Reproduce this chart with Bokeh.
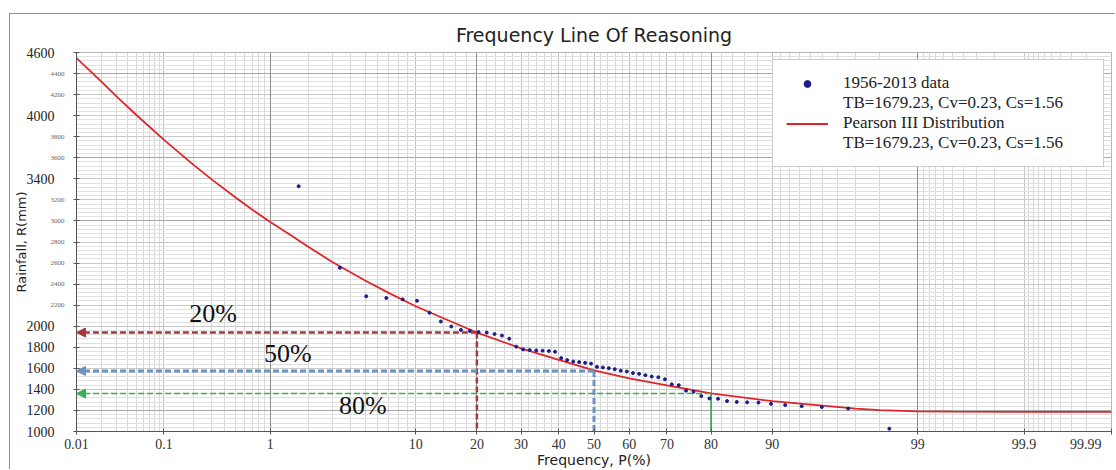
from statistics import NormalDist
from bokeh.plotting import figure
from bokeh.models import (Range1d, FixedTicker, Grid, Label, Arrow, NormalHead,
                          Legend, LegendItem, LinearAxis)
from bokeh.embed import file_html
from bokeh.resources import INLINE

# ---------------- data ----------------
# empirical frequency (%) of the 58 observed years, 1956-2013
obs_p = [1.69, 3.39, 5.08, 6.78, 8.47, 10.17, 11.86, 13.56, 15.25, 16.95,
         18.64, 20.34, 22.03, 23.73, 25.42, 27.12, 28.81, 30.51, 32.20, 33.90,
         35.59, 37.29, 38.98, 40.68, 42.37, 44.07, 45.76, 47.46, 49.15, 50.85,
         52.54, 54.24, 55.93, 57.63, 59.32, 61.02, 62.71, 64.41, 66.10, 67.80,
         69.49, 71.19, 72.88, 74.58, 76.27, 77.97, 79.66, 81.36, 83.05, 84.75,
         86.44, 88.14, 89.83, 91.53, 93.22, 94.92, 96.61, 98.31]
obs_rain = [3330, 2555, 2284, 2268, 2255, 2242, 2128, 2045, 1997, 1965,
            1955, 1945, 1940, 1926, 1911, 1882, 1806, 1780, 1773, 1770,
            1767, 1764, 1758, 1697, 1678, 1665, 1659, 1652, 1645, 1614,
            1608, 1601, 1592, 1578, 1570, 1555, 1548, 1535, 1522, 1515,
            1496, 1448, 1440, 1388, 1377, 1337, 1314, 1311, 1289, 1281,
            1277, 1275, 1263, 1251, 1241, 1232, 1218, 1027]

# Pearson III fitted curve
curve_p = [0.01, 0.02, 0.03, 0.05, 0.1, 0.2, 0.3, 0.5, 0.7, 1, 1.5, 2, 3, 5,
           7, 10, 15, 20, 30, 40, 50, 60, 70, 80, 90, 95, 97, 98, 99, 99.5,
           99.9, 99.99]
curve_rain = [4547, 4323, 4184, 4009, 3770, 3533, 3395, 3222, 3108, 2990,
              2857, 2755, 2610, 2435, 2317, 2190, 2050, 1940, 1790, 1680,
              1580, 1505, 1438, 1362, 1288, 1245, 1218, 1203, 1192, 1188,
              1187, 1187]

# design-frequency read-outs
design_p = [20, 50, 80]
design_rain = [1940, 1575, 1360]
design_labels = ["20%", "50%", "80%"]

x_tick_p = [0.01, 0.1, 1, 10, 20, 30, 40, 50, 60, 70, 80, 90, 99, 99.9, 99.99]
x_tick_labels = ["0.01", "0.1", "1", "10", "20", "30", "40", "50", "60", "70",
                 "80", "90", "99", "99.9", "99.99"]
y_big_ticks = [1000, 1200, 1400, 1600, 1800, 2000, 3400, 4000, 4600]
y_small_ticks = [2200, 2400, 2600, 2800, 3000, 3200, 3600, 3800, 4200, 4400]

legend_stats = "TB=1679.23, Cv=0.23, Cs=1.56"

# ---------------- probability-paper transform ----------------
ND = NormalDist()


def z(pct):
    return ND.inv_cdf(pct / 100.0)


obs_x = [z(v) for v in obs_p]
curve_x = [z(v) for v in curve_p]
x_ticks = [z(v) for v in x_tick_p]

minor_p = ([round(0.01 * k, 2) for k in range(2, 10)] +
           [round(0.1 * k, 1) for k in range(2, 10)] +
           list(range(2, 10)) +
           list(range(12, 90, 2)) +
           list(range(91, 99)) +
           [round(99 + 0.1 * k, 1) for k in range(1, 9)] +
           [round(99.9 + 0.01 * k, 2) for k in range(1, 9)])
minor_x = [z(v) for v in minor_p]

X0, X1 = z(0.01), z(99.99)

p = figure(width=1106, height=456, output_backend="svg", toolbar_location=None,
           x_range=Range1d(X0, X1), y_range=Range1d(1000, 4600),
           min_border_left=66, min_border_right=5, min_border_top=38,
           min_border_bottom=37, title="Frequency Line Of Reasoning")
p.styles = {"margin-left": "9px", "margin-top": "13px",
            "border-top": "1px solid #8f8f8f", "border-left": "1px solid #8f8f8f"}
p.background_fill_color = "white"
p.border_fill_color = "white"
p.outline_line_color = "#b5b5b5"

p.title.align = "center"
p.title.text_font = "DejaVu Sans"
p.title.text_font_size = "19px"
p.title.text_font_style = "normal"
p.title.text_color = "#222222"
p.title.standoff = 13

# x axis
xa = p.xaxis[0]
xa.ticker = FixedTicker(ticks=x_ticks, minor_ticks=minor_x)
ov = {t: lab for t, lab in zip(x_ticks, x_tick_labels)}
ov[x_ticks[-1]] = x_tick_labels[-1] + "\u00a0" * 4
xa.major_label_overrides = ov
xa.major_label_text_font = "Liberation Serif"
xa.major_label_text_font_size = "14px"
xa.major_label_text_color = "#333333"
xa.major_label_standoff = 1
xa.major_tick_in = 3
xa.major_tick_out = 3
xa.minor_tick_line_color = None
xa.axis_line_color = "#555555"
xa.major_tick_line_color = "#555555"
xa.axis_label = "Frequency, P(%)"
xa.axis_label_text_font = "DejaVu Sans"
xa.axis_label_text_font_size = "14px"
xa.axis_label_text_font_style = "normal"
xa.axis_label_text_color = "#222222"
xa.axis_label_standoff = -3

# y axis (inner): ticks every 200, small labels
ya = p.yaxis[0]
ya.ticker = FixedTicker(ticks=list(range(1000, 4601, 200)),
                        minor_ticks=list(range(1000, 4601, 40)))
ya.major_label_overrides = {v: "" for v in y_big_ticks}
ya.major_label_text_font = "Liberation Serif"
ya.major_label_text_font_size = "7px"
ya.major_label_text_color = "#666666"
ya.major_label_standoff = 8
ya.major_tick_in = 3
ya.major_tick_out = 3
ya.minor_tick_line_color = None
ya.axis_line_color = "#555555"
ya.major_tick_line_color = "#555555"

# y axis (outer): large labels and the axis title
ya2 = LinearAxis(ticker=FixedTicker(ticks=y_big_ticks))
ya2.major_label_text_font = "Liberation Serif"
ya2.major_label_text_font_size = "14px"
ya2.major_label_text_color = "#222222"
ya2.major_label_standoff = -7
ya2.major_tick_in = 0
ya2.major_tick_out = 0
ya2.minor_tick_line_color = None
ya2.axis_line_color = None
ya2.major_tick_line_color = None
ya2.axis_label = "Rainfall, R(mm)"
ya2.axis_label_text_font = "DejaVu Sans"
ya2.axis_label_text_font_size = "13px"
ya2.axis_label_text_font_style = "normal"
ya2.axis_label_text_color = "#222222"
ya2.axis_label_standoff = -5
p.add_layout(ya2, "left")

# grids
p.xgrid.grid_line_color = "#c4c4c4"
p.xgrid.minor_grid_line_color = "#d8d8d8"
p.ygrid.grid_line_color = "#c8c8c8"
p.ygrid.minor_grid_line_color = "#e0e0e0"
p.add_layout(Grid(dimension=0, ticker=FixedTicker(ticks=[z(1), z(20), z(80), z(99)]),
                  grid_line_color="#8e8e8e"))
p.add_layout(Grid(dimension=1, ticker=FixedTicker(ticks=[1200, 3000, 3600, 4400]),
                  grid_line_color="#a8a8a8"))

# design read-out lines
d_colors = ["#a23b3f", "#6b93c4", "#3aae52"]
d_widths = [2.5, 3, 1.5]
for pp, vv, col, w in zip(design_p, design_rain, d_colors, d_widths):
    p.add_layout(Arrow(end=NormalHead(size=9, fill_color=col, line_color=col, line_width=1),
                       x_start=z(pp), y_start=vv, x_end=X0, y_end=vv,
                       line_color=col, line_width=w, line_dash="6 3"))
p.segment(x0=[z(design_p[0])], y0=[design_rain[0]], x1=[z(design_p[0])], y1=[1000],
          line_color=d_colors[0], line_width=2.5, line_dash="6 3")
p.segment(x0=[z(design_p[1])], y0=[design_rain[1]], x1=[z(design_p[1])], y1=[1000],
          line_color=d_colors[1], line_width=3, line_dash="6 3")
p.segment(x0=[z(design_p[2])], y0=[design_rain[2]], x1=[z(design_p[2])], y1=[1000],
          line_color=d_colors[2], line_width=1.8)

lab_anchor_p = [0.31, 1.39, 4.83]
lab_offsets = [19, 17, -12]
for lp, vv, off, txt in zip(lab_anchor_p, design_rain, lab_offsets, design_labels):
    p.add_layout(Label(x=z(lp), y=vv, y_offset=off, text=txt, text_align="center",
                       text_baseline="middle", text_font="Liberation Serif",
                       text_font_size="26px", text_color="#111111"))

# fitted curve and observed points
curve_r = p.line(curve_x, curve_rain, line_color="#e0242a", line_width=1.8)
pts_r = p.scatter(obs_x, obs_rain, marker="circle", size=3,
                  fill_color="#1c1c8c", line_color="#1c1c8c")
blank1 = p.scatter([], [], size=1, fill_alpha=0, line_alpha=0)
blank2 = p.scatter([], [], size=1, fill_alpha=0, line_alpha=0)

legend = Legend(items=[LegendItem(label="1956-2013 data", renderers=[pts_r]),
                       LegendItem(label=legend_stats, renderers=[blank1]),
                       LegendItem(label="Pearson III Distribution", renderers=[curve_r]),
                       LegendItem(label=legend_stats, renderers=[blank2])],
                location="top_right", margin=7, padding=13, spacing=-1,
                glyph_width=42, glyph_height=17, label_height=17,
                label_standoff=15, label_width=247,
                label_text_font="Liberation Serif", label_text_font_size="17px",
                label_text_line_height=1.0,
                label_text_color="#222222", border_line_color="#9a9a9a",
                border_line_width=1, background_fill_color="white",
                background_fill_alpha=1.0)
p.add_layout(legend)

open("out.html", "w").write(file_html(p, INLINE))
